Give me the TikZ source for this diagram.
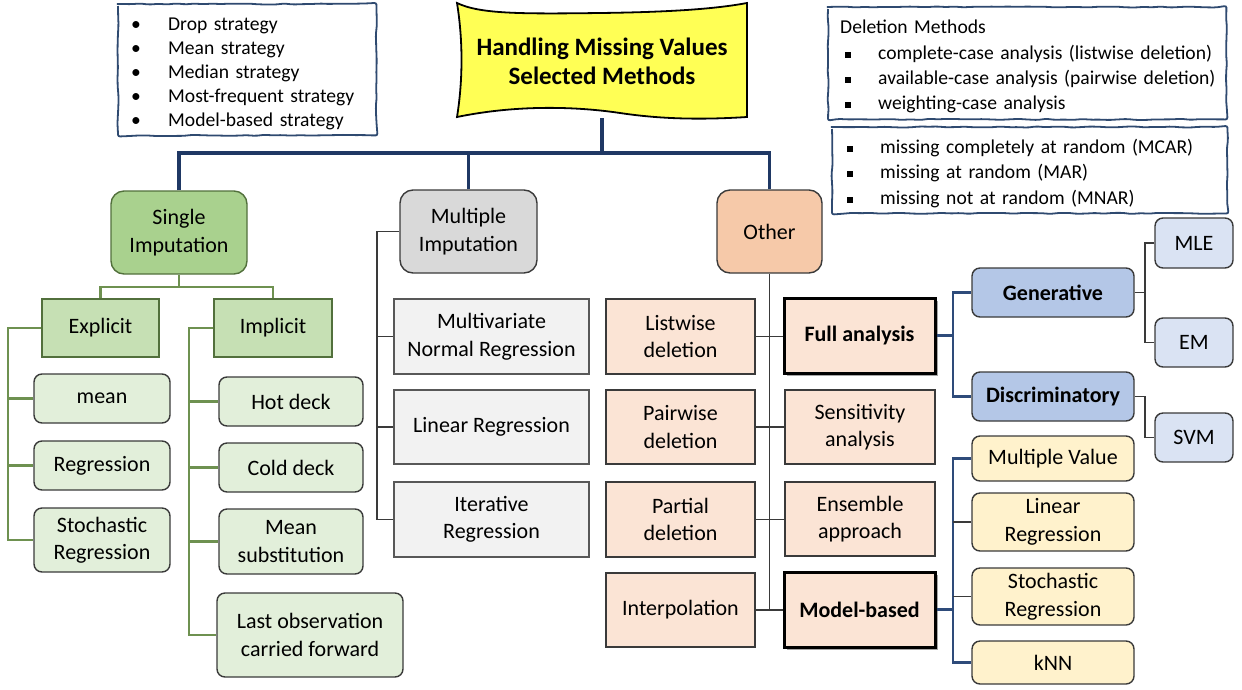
\documentclass[tikz,border=0pt]{standalone}
\usepackage{fontspec}
\setmainfont{Carlito}
\usetikzlibrary{calc,shadows,decorations.pathmorphing}

\definecolor{trunkblue}{HTML}{1F3864}
\definecolor{notebord}{HTML}{2F4A70}
\definecolor{flagyellow}{HTML}{FFFF55}
\definecolor{leafgreen}{HTML}{6E9150}
\definecolor{singlefill}{HTML}{A9D18E}
\definecolor{singlebord}{HTML}{52703C}
\definecolor{expfill}{HTML}{C6E0B4}
\definecolor{leaffill}{HTML}{E2EFDA}
\definecolor{multfill}{HTML}{D9D9D9}
\definecolor{mvnfill}{HTML}{F2F2F2}
\definecolor{otherfill}{HTML}{F6C9A9}
\definecolor{peachfill}{HTML}{FBE4D5}
\definecolor{genfill}{HTML}{B4C7E7}
\definecolor{mlefill}{HTML}{DAE3F3}
\definecolor{yelfill}{HTML}{FFF2CC}
\definecolor{darkline}{HTML}{3A3A3A}
\definecolor{branchblue}{HTML}{2E4B7A}

\newcommand\cellfont{\fontsize{22}{27.5}\selectfont}
\newcommand\notefont{\fontsize{19.6}{24}\selectfont}
\newcommand\delfont{\fontsize{19.6}{25.4}\selectfont}
\newcommand\flagfont{\fontsize{25}{29}\selectfont\bfseries}
\newcommand\sqbullet{\raisebox{1.5pt}{\rule{5.5pt}{6pt}}}
\newcommand\notedown[1]{\raisebox{-3.5pt}[\height][\depth]{#1}}

\begin{document}
\begin{tikzpicture}[x=1pt,y=-1pt]

	% Styles
	\tikzstyle{box} = [draw=darkline,line width=1.4pt,align=center,inner sep=0pt,font=\cellfont,text=black]
	\tikzstyle{headbox} = [box,rounded corners=13pt,minimum height=83pt]
	\tikzstyle{greenhead} = [box,draw=singlebord,fill=expfill,minimum width=117pt,minimum height=58pt]
	\tikzstyle{greenleaf} = [box,rounded corners=8pt,fill=leaffill]
	\tikzstyle{mvnbox} = [box,draw=darkline!85,fill=mvnfill,minimum width=195pt,minimum height=75pt]
	\tikzstyle{peachbox} = [box,fill=peachfill,minimum height=75pt]
	\tikzstyle{keybox} = [peachbox,draw=black,line width=3pt,font=\cellfont\bfseries,
		drop shadow={shadow xshift=3pt,shadow yshift=-3pt,fill=black,opacity=0.35}]
	\tikzstyle{genbox} = [box,rounded corners=8pt,fill=genfill,minimum width=162pt,minimum height=49pt,font=\cellfont\bfseries]
	\tikzstyle{mlebox} = [box,rounded corners=8pt,fill=mlefill,minimum width=78pt,minimum height=49pt]
	\tikzstyle{yelbox} = [box,rounded corners=8pt,fill=yelfill,minimum width=162pt]
	\tikzstyle{note} = [anchor=north west,inner ysep=0pt,align=left]
	\tikzstyle{wavy} = [draw=notebord,line width=1.8pt,decorate,
		decoration={random steps,segment length=9pt,amplitude=0.6pt},rounded corners=2pt]
	\tikzstyle{trunk} = [draw=trunkblue,line width=3.2pt]
	\tikzstyle{greenline} = [draw=leafgreen,line width=2.4pt]
	\tikzstyle{thinline} = [draw=darkline,line width=1.3pt]
	\tikzstyle{blueline} = [draw=branchblue,line width=2.4pt]

	\useasboundingbox (0,0) rectangle (1242,689);

	% Titel
	\fill[flagyellow,draw=black,line width=1.8pt] (457,3) .. controls (480,14) and (520,14) .. (600,13)
		.. controls (680,12) and (720,8) .. (747,3) -- (747,117)
		.. controls (700,120) and (660,119) .. (620,113)
		.. controls (580,107) and (520,104) .. (457,117)
		.. controls (463,80) and (463,40) .. (457,3) -- cycle;
	\node at (602,61) [align=center,font=\flagfont,minimum width=290pt,minimum height=114pt,inner sep=0pt] (title)
		{Handling Missing Values\\Selected Methods};

	% Notizen
	\node at (118,4) [note,font=\notefont,inner xsep=13pt,text width=232pt,minimum height=131pt] (strategies) {%
		\notedown{\begin{tabular}{@{}p{37pt}@{}l@{}}
		• & Drop strategy\\
		• & Mean strategy\\
		• & Median strategy\\
		• & Most-frequent strategy\\
		• & Model-based strategy
		\end{tabular}}};
	\draw[wavy] (strategies.north west) rectangle (strategies.south east);

	\node at (828,7) [note,font=\delfont,inner xsep=12pt,text width=374pt,minimum height=112pt] (deletion) {%
		\notedown{\begin{tabular}{@{}p{38pt}@{}l@{}}
		\multicolumn{2}{@{}l@{}}{Deletion Methods}\\
		\hspace*{5pt}\sqbullet & complete-case analysis (listwise deletion)\\
		\hspace*{5pt}\sqbullet & available-case analysis (pairwise deletion)\\
		\hspace*{5pt}\sqbullet & weighting-case analysis
		\end{tabular}}};
	\draw[wavy] (deletion.north west) rectangle (deletion.south east);

	\node at (832,127) [note,font=\delfont,inner xsep=15pt,text width=365pt,minimum height=86pt] (mechanisms) {%
		\notedown{\begin{tabular}{@{}p{33pt}@{}l@{}}
		\sqbullet & missing completely at random (MCAR)\\
		\sqbullet & missing at random (MAR)\\
		\sqbullet & missing not at random (MNAR)
		\end{tabular}}};
	\draw[wavy] (mechanisms.north west) rectangle (mechanisms.south east);

	% Hauptgruppen
	\node at (179,232.5) [headbox,draw=singlebord,fill=singlefill,minimum width=136pt] (single) {Single\\Imputation};
	\node at (468.5,231.5) [headbox,fill=multfill,minimum width=137pt] (multi) {Multiple\\Imputation};
	\node at (769.5,231.5) [headbox,fill=otherfill,minimum width=105pt] (other) {Other};

	\coordinate (hub) at (602,153);
	\draw[trunk] (title.south) -- (hub);
	\draw[trunk] (single.north) |- (hub) -| (other.north);
	\draw[trunk] (multi.north) -- (multi.north |- hub);

	% Single Imputation
	\node at (100.5,328) [greenhead] (explicit) {Explicit};
	\node at (273,328) [greenhead,minimum width=118pt] (implicit) {Implicit};
	\draw[greenline] (single.south) -- ++(0,12.5);
	\draw[greenline] (explicit.north) |- ($(single.south)+(0,12.5)$) -| (implicit.north);

	\node at (102,398.5) [greenleaf,minimum width=136pt,minimum height=49pt] (mean) {mean};
	\node at (102,465.5) [greenleaf,minimum width=136pt,minimum height=49pt] (regr) {Regression};
	\node at (102,540) [greenleaf,minimum width=136pt,minimum height=64pt] (stoch) {Stochastic\\Regression};
	\coordinate (exbus) at (8,0);
	\draw[greenline] (explicit.west) -- (explicit.west -| exbus) |- (stoch.west);
	\foreach \leaf in {mean,regr}
		\draw[greenline] (\leaf.west -| exbus) -- (\leaf.west);

	\node at (291,401.5) [greenleaf,minimum width=144pt,minimum height=49pt] (hot) {Hot deck};
	\node at (291,467.5) [greenleaf,minimum width=144pt,minimum height=49pt] (cold) {Cold deck};
	\node at (291,541.5) [greenleaf,minimum width=144pt,minimum height=65pt] (meansub) {Mean\\substitution};
	\node at (310,635) [greenleaf,minimum width=186pt,minimum height=84pt] (locf) {Last observation\\carried forward};
	\coordinate (imbus) at (189,0);
	\draw[greenline] (implicit.west) -- (implicit.west -| imbus) |- (locf.west);
	\foreach \leaf in {hot,cold,meansub}
		\draw[greenline] (\leaf.west -| imbus) -- (\leaf.west);

	% Multiple Imputation
	\node at (491.5,336.5) [mvnbox] (mvn) {Multivariate\\Normal Regression};
	\node at (491.5,427) [mvnbox,minimum height=74pt] (linreg) {Linear Regression};
	\node at (491.5,519.5) [mvnbox] (itreg) {Iterative\\Regression};
	\coordinate (mibus) at (377,0);
	\draw[thinline] (multi.west) -- (multi.west -| mibus) |- (itreg.west);
	\foreach \leaf in {mvn,linreg}
		\draw[thinline] (\leaf.west -| mibus) -- (\leaf.west);

	% Other
	\node at (680.5,336.5) [peachbox,minimum width=149pt] (listwise) {Listwise\\deletion};
	\node at (680.5,427) [peachbox,minimum width=149pt,minimum height=74pt] (pairwise) {Pairwise\\deletion};
	\node at (680.5,519.5) [peachbox,minimum width=149pt] (partial) {Partial\\deletion};
	\node at (680.5,610) [peachbox,minimum width=149pt,minimum height=74pt] (interp) {Interpolation};
	\node at (859.5,335.5) [keybox,minimum width=151pt] (full) {Full analysis};
	\node at (860,427) [peachbox,minimum width=150pt,minimum height=74pt] (sens) {Sensitivity\\analysis};
	\node at (860,519) [peachbox,minimum width=150pt,minimum height=74pt] (ens) {Ensemble\\approach};
	\node at (859.5,609.5) [keybox,minimum width=151pt] (model) {Model-based};
	\draw[thinline] (other.south) -- (other.south |- interp.east);
	\draw[thinline] (listwise.east) -- (listwise.east -| full.west);
	\draw[thinline] (pairwise.east) -- (sens.west);
	\draw[thinline] (partial.east) -- (partial.east -| ens.west);
	\draw[thinline] (interp.east) -- (interp.east -| model.west);

	% Full analysis
	\node at (1053,292.5) [genbox] (gen) {Generative};
	\node at (1053,396.5) [genbox] (disc) {Discriminatory};
	\coordinate (fbus) at (953,0);
	\draw[blueline] (full.east) -- (full.east -| fbus);
	\draw[blueline] (gen.west) -- (gen.west -| fbus) |- (disc.west);

	\node at (1194,243) [mlebox,minimum height=50pt] (mle) {MLE};
	\node at (1194,342.5) [mlebox] (em) {EM};
	\node at (1194,437.5) [mlebox] (svm) {SVM};
	\coordinate (gbus) at (1145,0);
	\draw[thinline] (gen.east) -- (gen.east -| gbus);
	\draw[thinline] (mle.west) -- (mle.west -| gbus) |- (em.west);
	\draw[thinline] (disc.east) -- (disc.east -| gbus) |- (svm.west);

	% Model-based
	\node at (1053,458.5) [yelbox,minimum height=45pt] (mval) {Multiple Value};
	\node at (1053,522) [yelbox,minimum height=58pt] (ylin) {Linear\\Regression};
	\node at (1053,596.5) [yelbox,minimum height=57pt] (ystoch) {Stochastic\\Regression};
	\node at (1053,662.5) [yelbox,minimum height=43pt] (knn) {kNN};
	\draw[blueline] (model.east) -- (model.east -| fbus);
	\draw[blueline] (mval.west) -- (mval.west -| fbus) |- (knn.west);
	\foreach \leaf in {ylin,ystoch}
		\draw[thinline] (\leaf.west -| fbus) -- (\leaf.west);

\end{tikzpicture}
\end{document}
